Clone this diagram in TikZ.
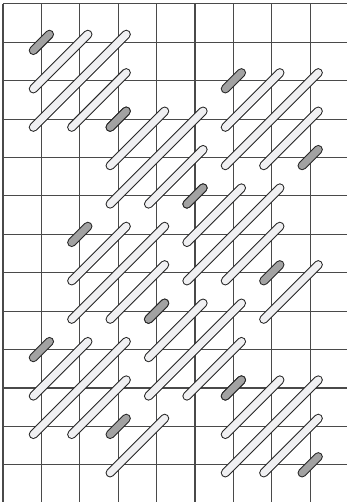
\documentclass[tikz,border=0pt]{standalone}
\usepackage{tikz}
\usetikzlibrary{calc}
\usepackage{xcolor}

\definecolor{threadline}{HTML}{4A4A4A}
\definecolor{stitchedge}{HTML}{262626}
\definecolor{stitchlight}{HTML}{F0F0F2}
\definecolor{stitchdark}{HTML}{A2A2A2}

% one stitch from hole (#2,#3) up to hole (#4,#5), filled with #1
\newcommand{\stitch}[5]{%
    \draw[stitchouter] (#2+0.79,#3+0.21) -- (#4+0.21,#5+0.79);
    \draw[stitchinner, draw=#1] (#2+0.79,#3+0.21) -- (#4+0.21,#5+0.79);}

% one diagonal block of five stitches, top-left hole (#1,#2)
\newcommand{\sblock}[2]{%
    \stitch{stitchdark}{#1}{#2+1}{#1+1}{#2}
    \stitch{stitchlight}{#1}{#2+2}{#1+2}{#2}
    \stitch{stitchlight}{#1}{#2+3}{#1+3}{#2}
    \stitch{stitchlight}{#1+1}{#2+3}{#1+3}{#2+1}
    \stitch{stitchdark}{#1+2}{#2+3}{#1+3}{#2+2}}

\begin{document}
\begin{tikzpicture}[
    x=1cm, y=-1cm,
    thread/.style={draw=threadline, line width=0.75pt},
    stitchouter/.style={line width=6.8pt, line cap=round, draw=stitchedge},
    stitchinner/.style={line width=5.2pt, line cap=round}
]
    \useasboundingbox (-0.078,-0.104) rectangle (8.958,12.969);

    % canvas threads
    \foreach \i in {0,...,8}
        \draw[thread] (\i,0) -- (\i,12.969);
    \foreach \j in {0,...,12}
        \draw[thread] (0,\j) -- (8.958,\j);

    % first diagonal row
    \sblock{0}{0}
    \sblock{2}{2}
    \sblock{4}{4}
    \stitch{stitchlight}{6}{8}{8}{6}

    % upper right row
    \sblock{5}{1}

    % middle row
    \sblock{1}{5}
    \sblock{3}{7}
    \sblock{5}{9}

    % lower left row
    \sblock{0}{8}
    \stitch{stitchlight}{2}{12}{4}{10}
\end{tikzpicture}
\end{document}
